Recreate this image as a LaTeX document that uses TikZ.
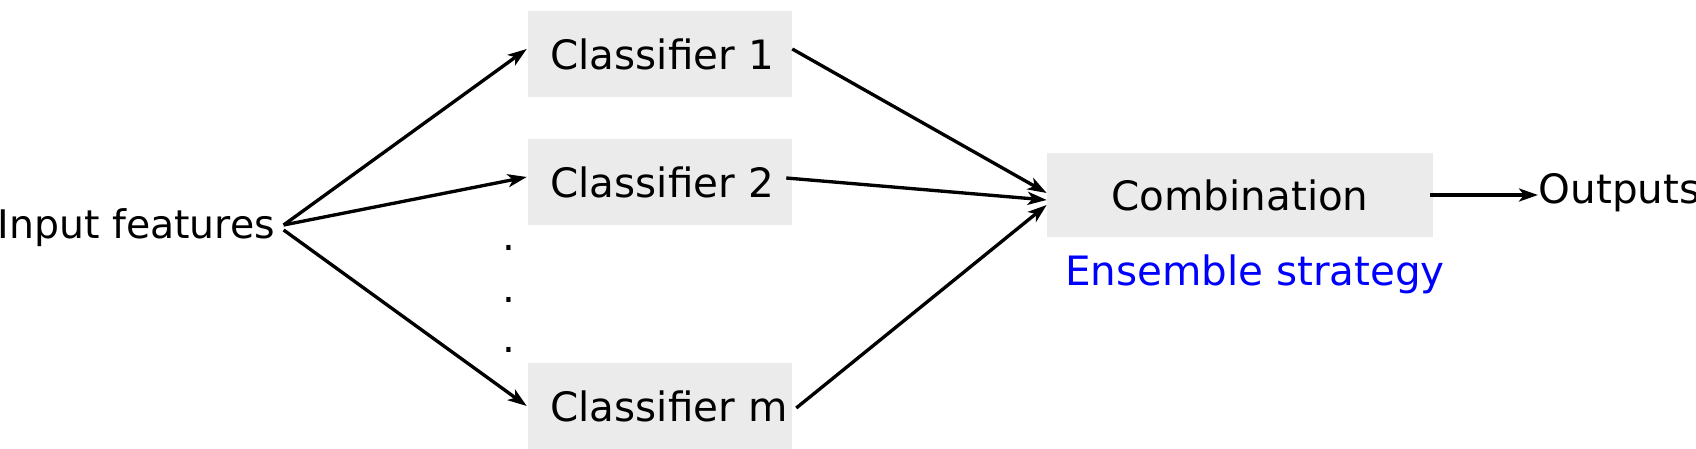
\documentclass[tikz,border=0pt]{standalone}
\usepackage{fontspec}
\setmainfont{DejaVu Sans}
\usepackage{tikz}
\usetikzlibrary{arrows.meta, positioning, calc}

\definecolor{boxgray}{HTML}{EBEBEB}

\begin{document}
\begin{tikzpicture}[x=0.01cm, y=-0.01cm, node distance=0.1cm and 0.1cm,
		every node/.style={font=\fontsize{11.5}{13}\selectfont, inner sep=0pt},
		clf/.style={fill=boxgray, text width=2.63cm, align=left, minimum height=0.85cm,
			execute at begin node=\hspace*{0.22cm}},
		arr/.style={-{Stealth[length=0.19cm, width=0.13cm, inset=0.05cm]}, line width=0.95pt}]
		\useasboundingbox (0,0) rectangle (1696,449);
		\node[anchor=west, font=\fontsize{11.2}{13}\selectfont] (inp) at (-3,228) {Input features};
		\node[clf] (c1) at (660,54) {Classifier 1};
		\node[clf] (c2) at (660,182) {Classifier 2};
		\node[clf] (cm) at (660,406) {Classifier m};
		\foreach \y in {248,300,350}
			\node (d\y) at (509,\y) {.};
		\node[fill=boxgray, minimum width=3.85cm, minimum height=0.84cm] (comb) at (1240,195) {Combination};
		\node[text=blue] (ens) at (1255,274) {Ensemble strategy};
		\node[anchor=west] (out) at (1538,193) {Outputs};
		% shifts in pixels, downwards
		\foreach \to/\dy in {c1/-5,c2/-5,cm/0}
			\draw[arr] ([xshift=0.08cm, yshift=-(\dy+2)*0.01cm]inp.east) -- ([xshift=-0.01cm, yshift=-\dy*0.01cm]\to.west);
		\foreach \from/\sx/\sy/\dy in {c1/0/-5/-2,c2/-6/-4/5,cm/4/2/10}
			\draw[arr] ([xshift=\sx*0.01cm, yshift=-\sy*0.01cm]\from.east) -- ([yshift=-\dy*0.01cm]comb.west);
		\draw[arr] ([xshift=-0.03cm]comb.east) -- (comb.east -| out.west);
	\end{tikzpicture}
\end{document}
